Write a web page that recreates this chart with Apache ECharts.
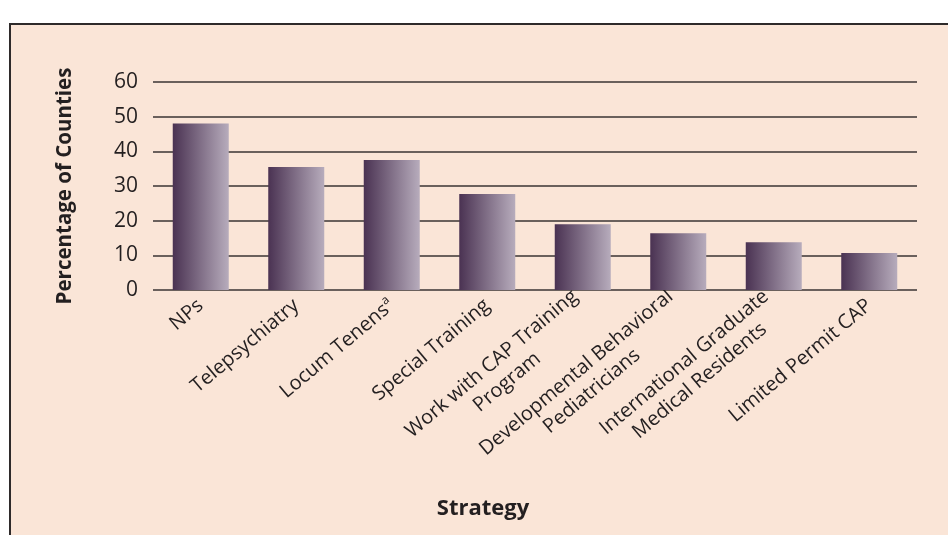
<!DOCTYPE html>
<html>
<head>
<meta charset="utf-8">
<script src="https://cdn.jsdelivr.net/npm/echarts@6/dist/echarts.min.js"></script>
<style>
html,body{margin:0;padding:0;background:#ffffff;}
#chart{width:948px;height:535px;}
</style>
</head>
<body>
<div id="chart"></div>
<script>
const categories = [
  'NPs',
  'Telepsychiatry',
  'Locum Tenens^a',
  'Special Training',
  'Work with CAP Training\nProgram',
  'Developmental Behavioral\nPediatricians',
  'International Graduate\nMedical Residents',
  'Limited Permit CAP'
];
const values = [48, 35.5, 37.5, 27.7, 19, 16.4, 13.8, 10.7];
const yAxisTitle = 'Percentage of Counties';
const xAxisTitle = 'Strategy';

const chart = echarts.init(document.getElementById('chart'));
const txtColor = '#231F20';
const font = '"Open Sans", "DejaVu Sans", sans-serif';

function fmt(v) {
  const lines = v.split('\n');
  return lines.map(function (l, i) {
    let s = l;
    if (s.indexOf('^a') >= 0) {
      return '{m|' + s.replace('^a', '') + '}{sup|a}';
    }
    return (i === 0 ? '{m|' : '{c|') + s + '}';
  }).join('\n');
}

chart.setOption({
  animation: false,
  backgroundColor: '#ffffff',
  graphic: [
    {
      type: 'rect', z: -10,
      shape: { x: 10, y: 24, width: 960, height: 540 },
      style: { fill: '#FAE5D7', stroke: '#2E2A2A', lineWidth: 2 }
    },
    {
      type: 'text', x: 483, y: 509, z: 10,
      style: { text: xAxisTitle, fill: txtColor, font: 'bold 22px "Open Sans", sans-serif', align: 'center', verticalAlign: 'middle' }
    }
  ],
  grid: { left: 153, right: 31, top: 82, bottom: 245 },
  xAxis: {
    type: 'category',
    data: categories,
    axisLine: { show: false },
    axisTick: { show: false },
    axisLabel: {
      interval: 0,
      rotate: 40,
      margin: 13,
      color: txtColor,
      fontSize: 20,
      fontFamily: font,
      formatter: fmt,
      rich: {
        m: { fontSize: 20, fontFamily: font, color: txtColor, lineHeight: 24 },
        c: { fontSize: 20, fontFamily: font, color: txtColor, lineHeight: 24, align: 'center' },
        sup: { fontSize: 12, fontFamily: font, color: txtColor, verticalAlign: 'top', lineHeight: 24 }
      }
    }
  },
  yAxis: {
    type: 'value',
    min: 0, max: 60, interval: 10,
    name: yAxisTitle,
    nameLocation: 'middle',
    nameGap: 77,
    nameTextStyle: { color: txtColor, fontSize: 20.5, fontWeight: 'bold', fontFamily: font },
    axisLine: { show: false },
    axisTick: { show: false },
    axisLabel: { color: txtColor, fontSize: 21, fontFamily: font, margin: 15 },
    splitLine: { lineStyle: { color: '#3A3333', width: 1.5 } }
  },
  series: [{
    type: 'bar',
    data: values,
    barWidth: 56,
    itemStyle: {
      color: new echarts.graphic.LinearGradient(0, 0, 1, 0, [
        { offset: 0, color: '#4A3252' },
        { offset: 1, color: '#B7ACBC' }
      ])
    }
  }]
});
</script>
</body>
</html>
